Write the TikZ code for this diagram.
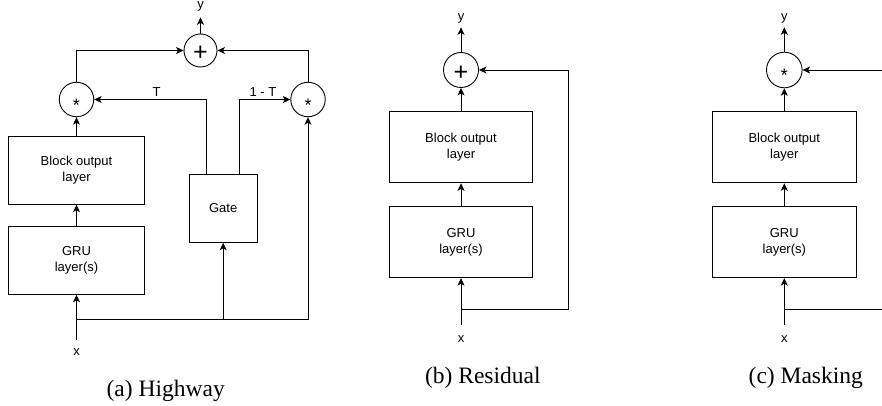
\documentclass[tikz,border=0pt]{standalone}
\usepackage{fontspec}
\setmainfont{Liberation Serif}
\newfontfamily\dio{Liberation Sans}
\usetikzlibrary{arrows.meta}
\begin{document}
\begin{tikzpicture}[x=1pt,y=-1pt,
  line width=0.9pt,
  every node/.style={inner sep=0pt},
  arr/.style={-{Stealth[length=7.5pt,width=7pt,inset=2pt]}},
  box/.style={draw,rectangle,font=\dio\fontsize{13}{15.5}\selectfont,align=center},
  opc/.style={draw,circle,minimum size=#1},
  startxt/.style={anchor=base,yshift=-11.9pt,font=\dio\fontsize{18}{18}\selectfont},
  plustxt/.style={anchor=base,yshift=-10.5pt,font=\dio\fontsize{25}{25}\selectfont},
  lbl/.style={font=\dio\fontsize{13}{13}\selectfont},
  captext/.style={font=\fontsize{23.5}{26}\selectfont}]
\useasboundingbox (0,0) rectangle (882,406);

% ---------------- (a) Highway ----------------
\node[opc=33] (hplus) at (200.5,50.5) {};
\node[plustxt] (hplust) at (hplus.center) {+};
\node[opc=34.5] (hsl) at (76.5,99.5) {};
\node[startxt] (hslt) at (hsl.center) {*};
\node[opc=34.5] (hsr) at (308,99.5) {};
\node[startxt] (hsrt) at (hsr.center) {*};
\node[box,minimum width=136,minimum height=68] (hbo) at (76.5,170.2) {Block output\\layer};
\node[box,minimum width=136,minimum height=67.6] (hgru) at (76.5,260.5) {GRU\\layer(s)};
\node[box,minimum width=67.7,minimum height=68.3] (hgate) at (223.2,208.2) {Gate};
\node[lbl] (hy) at (200.5,6.5) {y};
\node[lbl] (hx) at (76.5,351.7) {x};
\coordinate (hyt) at (200.5,17.3);
\coordinate (hxs) at (76.5,340);
\coordinate (hbr) at (76.5,319);
\node[lbl] (hT) at (156.7,92) {T};
\node[lbl] (h1T) at (263,92) {1 - T};

\draw[arr] (hxs) -- (hgru.south);
\draw[arr] (hgru) -- (hbo);
\draw[arr] (hbo) -- (hsl);
\draw[arr] (hsl.north) |- (hplus.west);
\draw[arr] (hsr.north) |- (hplus.east);
\draw[arr] (hplus) -- (hyt);
\draw[arr] (hbr) -| (hsr.south);
\draw[arr] (hgate.south |- hbr) -- (hgate.south);
\draw[arr] ([xshift=-16.5pt]hgate.north) |- (hsl.east);
\draw[arr] ([xshift=16.1pt]hgate.north) |- (hsr.west);

\node[captext] (hcap) at (165.7,391) {(a) Highway};

% ---------------- (b) Residual ----------------
\node[opc=35] (rplus) at (461,70) {};
\node[plustxt] (rplust) at (rplus.center) {+};
\node[box,minimum width=143.7,minimum height=71.7] (rbo) at (461,147) {Block output\\layer};
\node[box,minimum width=143.7,minimum height=71] (rgru) at (461,242.2) {GRU\\layer(s)};
\node[lbl] (ry) at (461,18) {y};
\node[lbl] (rx) at (461,339) {x};
\coordinate (ryt) at (461,27.3);
\coordinate (rxs) at (461,325);
\coordinate (rbr) at (461,309.3);
\coordinate (rc) at (568.7,70);

\draw[arr] (rxs) -- (rgru.south);
\draw[arr] (rgru) -- (rbo);
\draw[arr] (rbo) -- (rplus);
\draw[arr] (rplus) -- (ryt);
\draw[arr] (rbr) -| (rc) -- (rplus.east);

\node[captext] (rcap) at (482.8,378) {(b) Residual};

% ---------------- (c) Masking ----------------
\node[opc=35.6] (mstar) at (784.3,70) {};
\node[startxt] (mstart) at (mstar.center) {*};
\node[box,minimum width=143.7,minimum height=71.7] (mbo) at (784.3,147) {Block output\\layer};
\node[box,minimum width=143.7,minimum height=71] (mgru) at (784.3,242.2) {GRU\\layer(s)};
\node[lbl] (my) at (784.3,18) {y};
\node[lbl] (mx) at (784.3,339) {x};
\coordinate (myt) at (784.3,27.3);
\coordinate (mxs) at (784.3,325);
\coordinate (mbr) at (784.3,309.3);
\coordinate (min) at (882,70);
\coordinate (mout) at (882,309.3);

\draw[arr] (mxs) -- (mgru.south);
\draw[arr] (mgru) -- (mbo);
\draw[arr] (mbo) -- (mstar);
\draw[arr] (mstar) -- (myt);
\draw[arr] (min) -- (mstar.east);
\draw (mbr) -- (mout);

\node[captext] (mcap) at (805.8,378) {(c) Masking};
\end{tikzpicture}
\end{document}
